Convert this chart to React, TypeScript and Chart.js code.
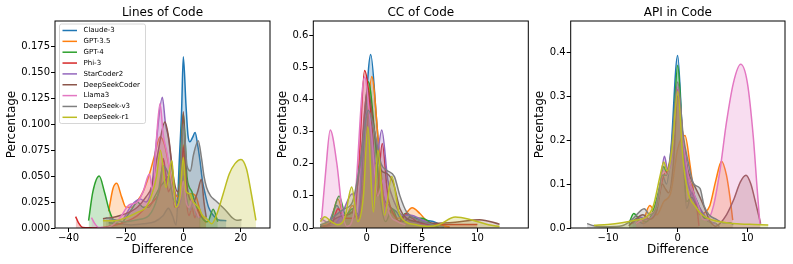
import React, { useEffect, useRef } from "react";
import { Chart, registerables } from "chart.js";
Chart.register(...registerables);

type Pt = [number, number];

const SERIES = ["Claude-3", "GPT-3.5", "GPT-4", "Phi-3", "StarCoder2", "DeepSeekCoder", "Llama3", "DeepSeek-v3", "DeepSeek-r1"];
const COLORS = ["#1f77b4", "#ff7f0e", "#2ca02c", "#d62728", "#9467bd", "#8c564b", "#e377c2", "#7f7f7f", "#bcbd22"];

// ---------- Lines of Code : [difference, percentage] ----------
const LOC_CLAUDE3: Pt[] = [[-26,0.005],[-22,0.004],[-18,0.003],[-14,0.004],[-10,0.006],[-7,0.012],[-5.2,0.019],[-3.8,0.012],[-2.5,0.003],[-1.4,0.065],[-0.6,0.113],[0,0.165],[0.9,0.12],[1.6,0.09],[2.3,0.083],[3.2,0.087],[4.1,0.092],[5,0.08],[5.8,0.065],[6.7,0.045],[7.6,0.033],[8.8,0.02],[10.5,0.012],[12,0.008],[15,0.007]];
const LOC_GPT35: Pt[] = [[-26,0.016],[-24.5,0.038],[-23.2,0.043],[-21.5,0.03],[-20,0.02],[-18,0.02],[-16,0.026],[-14,0.035],[-12,0.05],[-10,0.07],[-8.1,0.088],[-6.5,0.08],[-5,0.06],[-3.5,0.04],[-2,0.03],[-1,0.05],[0,0.08],[0.8,0.05],[1.6,0.033],[3,0.033],[4.5,0.03],[6,0.015],[8,0.005]];
const LOC_GPT4: Pt[] = [[-33,0.007],[-31.5,0.035],[-29.3,0.05],[-27.5,0.035],[-25.8,0.017],[-24,0.006],[-22,0.004],[-20,0.01],[-18,0.018],[-16,0.025],[-14,0.02],[-12,0.02],[-10,0.03],[-8,0.04],[-6.5,0.045],[-5,0.05],[-3.5,0.035],[-2,0.02],[-1.2,0.049],[0,0.11],[1.3,0.049],[2,0.04],[3,0.035],[4,0.025],[5.5,0.015],[7,0.008],[8.5,0.006],[10.4,0.018],[12,0.006]];
const LOC_PHI3: Pt[] = [[-37.5,0.011],[-36.5,0.005],[-35,0.0005],[-30,0.0002],[-25,0.002],[-20,0.006],[-16,0.012],[-13,0.02],[-10,0.027],[-8,0.04],[-7,0.067],[-6,0.05],[-5.2,0.035],[-4,0.04],[-3,0.02],[-1.5,0.02],[0,0.078],[1,0.03],[2,0.012],[3,0.02],[4,0.01],[5,0.018],[6,0.01]];
const LOC_STARCODER2: Pt[] = [[-21,0.008],[-18,0.022],[-15,0.028],[-13,0.025],[-11,0.04],[-9.5,0.08],[-7.3,0.126],[-6.2,0.1],[-5.2,0.087],[-4,0.06],[-3,0.035],[-2,0.02],[-0.7,0.03],[0,0.05],[1,0.03],[2.3,0.017],[3.5,0.025],[4.5,0.012],[6,0.01]];
const LOC_DSCODER: Pt[] = [[-28,0.009],[-25,0.01],[-22,0.012],[-19,0.015],[-16,0.02],[-13,0.03],[-11,0.04],[-9,0.07],[-6.4,0.102],[-5,0.085],[-3.5,0.05],[-2,0.035],[-1,0.05],[0,0.112],[1,0.05],[2,0.03],[3.5,0.025],[5,0.035],[6.3,0.047],[7.2,0.025],[8,0.01]];
const LOC_LLAMA3: Pt[] = [[-32,0.01],[-31,0.005],[-29.5,0.0005],[-26,0.001],[-22,0.01],[-19,0.022],[-16,0.025],[-14,0.035],[-11.8,0.052],[-10.6,0.035],[-9.5,0.08],[-8.1,0.12],[-7,0.09],[-5.5,0.07],[-4,0.04],[-2.5,0.02],[-1,0.03],[0,0.045],[1,0.025],[2,0.02],[3,0.028],[4,0.02],[5.5,0.01]];
const LOC_DSV3: Pt[] = [[-27,0.01],[-24,0.008],[-20,0.006],[-16,0.008],[-12,0.012],[-9,0.03],[-7,0.06],[-5,0.05],[-3,0.025],[-1.5,0.03],[0,0.1],[1.3,0.06],[2.5,0.055],[3.5,0.07],[5.2,0.084],[6.4,0.066],[7.2,0.05],[8.1,0.039],[9.5,0.031],[11,0.027],[13.3,0.021],[15.1,0.016],[17,0.01],[18.6,0.0074],[20.3,0.008]];
const LOC_DSR1: Pt[] = [[-28,0.007],[-24,0.007],[-20,0.01],[-16,0.015],[-13,0.02],[-11,0.032],[-9.3,0.05],[-8,0.075],[-6,0.039],[-4,0.065],[-2.6,0.02],[-1.2,0.03],[0,0.068],[1,0.035],[2.3,0.033],[3.5,0.025],[5.3,0.02],[6.7,0.012],[8.1,0.009],[9.9,0.004],[11.5,0.012],[13.9,0.033],[16,0.052],[18,0.062],[20.1,0.066],[22,0.057],[23.7,0.033],[25.3,0.0074]];

// ---------- CC of Code ----------
const CC_CLAUDE3: Pt[] = [[-4.2,0.01],[-3.5,0.015],[-2.7,0.07],[-2.1,0.03],[-1.4,0.05],[-0.8,0.03],[-0.3,0.25],[0.36,0.54],[0.9,0.33],[1.4,0.12],[2,0.07],[2.7,0.05],[3.3,0.02],[4,0.035],[5,0.025],[6,0.02],[7,0.004]];
const CC_GPT35: Pt[] = [[-4,0.01],[-3.3,0.02],[-2.6,0.09],[-2,0.03],[-1.3,0.07],[-0.7,0.03],[-0.1,0.25],[0.45,0.472],[1.1,0.25],[1.6,0.08],[2.2,0.05],[2.8,0.03],[3.4,0.04],[4.1,0.063],[4.8,0.045],[5.5,0.02],[6.5,0.01],[7.5,0.003]];
const CC_GPT4: Pt[] = [[-4.2,0.005],[-3.4,0.01],[-2.5,0.1],[-1.9,0.04],[-1.3,0.06],[-0.7,0.04],[-0.2,0.35],[0.15,0.455],[0.7,0.3],[1.2,0.1],[1.7,0.02],[2.3,0.06],[2.9,0.02],[3.5,0.045],[4.2,0.03],[5,0.03],[6,0.01],[6.5,0.003]];
const CC_PHI3: Pt[] = [[-4,0.005],[-3.2,0.01],[-2.6,0.06],[-2,0.03],[-1.2,0.03],[-0.7,0.2],[-0.2,0.49],[0.5,0.3],[0.9,0.1],[1.4,0.263],[1.9,0.1],[2.5,0.04],[3,0.02],[3.6,0.045],[4.5,0.02],[5.5,0.012],[7,0.011],[8.5,0.011],[10,0.011]];
const CC_STARCODER2: Pt[] = [[-4.2,0.03],[-3.7,0.02],[-3,0.01],[-2.3,0.04],[-1.3,0.107],[-0.8,0.04],[-0.3,0.3],[0.15,0.367],[0.8,0.2],[1.36,0.305],[1.9,0.15],[2.5,0.08],[3.2,0.04],[4,0.04],[5,0.025],[6,0.01]];
const CC_DSCODER: Pt[] = [[-4.2,0.005],[-3.5,0.01],[-2.8,0.03],[-2,0.04],[-1.3,0.05],[-0.6,0.2],[0.1,0.43],[0.7,0.3],[1.3,0.18],[1.8,0.17],[2.4,0.14],[3,0.06],[3.6,0.03],[4.5,0.02],[6,0.015],[8,0.018],[10.2,0.026],[12,0.012]];
const CC_LLAMA3: Pt[] = [[-4.1,0.02],[-3.7,0.18],[-3.3,0.305],[-2.7,0.2],[-2.2,0.05],[-1.8,0.005],[-1.2,0.04],[-0.2,0.47],[0.4,0.3],[1,0.1],[1.5,0.15],[2,0.05],[2.8,0.02],[3.5,0.01]];
const CC_DSV3: Pt[] = [[-4.2,0.01],[-3.5,0.02],[-2.8,0.04],[-2,0.06],[-1.3,0.08],[-0.6,0.2],[0.15,0.367],[0.7,0.3],[1.3,0.2],[1.8,0.18],[2.5,0.16],[3,0.1],[3.6,0.05],[4.3,0.03],[5,0.02],[6,0.01],[7,0.003]];
const CC_DSR1: Pt[] = [[-4.2,0.02],[-3.8,0.035],[-3.2,0.02],[-2.6,0.01],[-2,0.03],[-1.36,0.128],[-0.8,0.02],[-0.3,0.1],[0.1,0.315],[0.6,0.05],[1.0,0.242],[1.6,0.04],[2.26,0.16],[2.9,0.05],[3.5,0.02],[4.5,0.01],[5.5,0.005],[6.5,0.01],[8,0.034],[9.5,0.025],[11,0.01],[12,0.005]];

// ---------- API in Code ----------
const API_CLAUDE3: Pt[] = [[-7,0.005],[-6,0.02],[-5,0.01],[-4,0.02],[-3,0.04],[-2.2,0.12],[-1.6,0.1],[-1,0.17],[0,0.392],[0.7,0.2],[1.3,0.045],[2,0.08],[2.8,0.06],[3.5,0.03],[4.5,0.015],[5.5,0.01],[6,0.003]];
const API_GPT35: Pt[] = [[-5,0.01],[-4,0.051],[-3,0.03],[-2,0.06],[-1,0.08],[0,0.18],[1.05,0.21],[1.8,0.14],[2.5,0.06],[3.2,0.03],[3.7,0.033],[4.6,0.05],[5.5,0.11],[6.3,0.152],[7,0.12],[7.5,0.07],[7.9,0.018]];
const API_GPT4: Pt[] = [[-7,0.01],[-6.3,0.033],[-5.5,0.02],[-4.5,0.015],[-3.5,0.04],[-2.5,0.1],[-2,0.14],[-1.5,0.12],[-0.7,0.2],[0,0.37],[0.7,0.2],[1.3,0.06],[2,0.07],[3,0.04],[4,0.02],[5,0.01]];
const API_PHI3: Pt[] = [[-6,0.01],[-5,0.02],[-4,0.02],[-3,0.05],[-2,0.12],[-1.5,0.13],[-0.8,0.18],[0,0.315],[0.8,0.2],[1.5,0.12],[2.3,0.08],[2.8,0.04],[3.06,0.005]];
const API_STARCODER2: Pt[] = [[-6.5,0.01],[-5.5,0.025],[-4.5,0.02],[-3.5,0.03],[-2.5,0.1],[-1.9,0.163],[-1.4,0.13],[-0.7,0.17],[0,0.3],[0.8,0.18],[1.5,0.1],[2.3,0.07],[3,0.05],[3.8,0.03],[4.5,0.015],[5.5,0.01]];
const API_DSCODER: Pt[] = [[-7,0.005],[-6,0.02],[-5,0.03],[-4,0.02],[-3,0.04],[-2.2,0.1],[-1.8,0.09],[-1.3,0.08],[-0.6,0.15],[0,0.3],[0.8,0.2],[1.5,0.13],[2.3,0.1],[3.2,0.07],[4,0.04],[4.6,0.017],[5.5,0.004],[6.1,0.011],[7,0.03],[8,0.063],[9,0.105],[9.8,0.12],[10.5,0.1],[11.1,0.063],[11.9,0.01]];
const API_LLAMA3: Pt[] = [[-6,0.01],[-5,0.02],[-4,0.03],[-3,0.05],[-2,0.13],[-1.5,0.12],[-0.8,0.18],[0,0.32],[0.8,0.2],[1.5,0.12],[2.3,0.08],[3,0.05],[3.6,0.02],[4.2,0.018],[5.1,0.048],[6.07,0.131],[7,0.24],[8,0.33],[9.04,0.372],[10,0.33],[10.85,0.207],[11.4,0.09],[11.8,0.01]];
const API_DSV3: Pt[] = [[-13,0.01],[-12,0.005],[-10,0.003],[-8,0.005],[-6.5,0.02],[-4.8,0.044],[-4,0.03],[-3,0.05],[-2.2,0.12],[-1.6,0.12],[-0.8,0.2],[0,0.332],[0.8,0.21],[1.5,0.15],[2.3,0.1],[3.2,0.09],[3.8,0.05],[4.5,0.03],[5.5,0.02],[6.5,0.012],[7.5,0.012],[8,0.008]];
const API_DSR1: Pt[] = [[-12,0.006],[-10,0.008],[-8,0.012],[-6,0.018],[-4.5,0.025],[-3.5,0.05],[-2.5,0.12],[-2,0.15],[-1.5,0.13],[-0.8,0.18],[0,0.31],[0.8,0.15],[1.5,0.08],[2.5,0.05],[3.5,0.03],[5,0.018],[7,0.012],[9,0.009],[11,0.008],[13,0.007]];

const LOC_CURVES = [LOC_CLAUDE3, LOC_GPT35, LOC_GPT4, LOC_PHI3, LOC_STARCODER2, LOC_DSCODER, LOC_LLAMA3, LOC_DSV3, LOC_DSR1];
const CC_CURVES = [CC_CLAUDE3, CC_GPT35, CC_GPT4, CC_PHI3, CC_STARCODER2, CC_DSCODER, CC_LLAMA3, CC_DSV3, CC_DSR1];
const API_CURVES = [API_CLAUDE3, API_GPT35, API_GPT4, API_PHI3, API_STARCODER2, API_DSCODER, API_LLAMA3, API_DSV3, API_DSR1];

const LOC_X_TICKS = [-40, -20, 0, 20];
const LOC_Y_TICKS = [0, 0.025, 0.05, 0.075, 0.1, 0.125, 0.15, 0.175];
const CC_X_TICKS = [0, 5, 10];
const CC_Y_TICKS = [0, 0.1, 0.2, 0.3, 0.4, 0.5, 0.6];
const API_X_TICKS = [-10, 0, 10];
const API_Y_TICKS = [0, 0.1, 0.2, 0.3, 0.4];

const TITLES = ["Lines of Code", "CC of Code", "API in Code"];
const X_LABEL = "Difference";
const Y_LABEL = "Percentage";

const FONT = "'DejaVu Sans', 'Liberation Sans', sans-serif";
Chart.defaults.font.family = FONT;

interface PanelCfg {
  title: string; curves: Pt[][]; xMin: number; xMax: number; yMax: number;
  xTicks: number[]; yTicks: number[]; yDec: number;
  left: number; width: number; axisW: number; padR: number; yTitlePad: number; legend: boolean;
}

const PANELS: PanelCfg[] = [
  { title: TITLES[0], curves: LOC_CURVES, xMin: -44.7, xMax: 30.2, yMax: 0.1994, xTicks: LOC_X_TICKS, yTicks: LOC_Y_TICKS, yDec: 3, left: 0, width: 272, axisW: 55, padR: 2, yTitlePad: 4.8, legend: true },
  { title: TITLES[1], curves: CC_CURVES, xMin: -4.83, xMax: 14.6, yMax: 0.6445, xTicks: CC_X_TICKS, yTicks: CC_Y_TICKS, yDec: 1, left: 272, width: 257, axisW: 41.3, padR: 0.7, yTitlePad: 3.3, legend: false },
  { title: TITLES[2], curves: API_CURVES, xMin: -15.35, xMax: 15.4, yMax: 0.4705, xTicks: API_X_TICKS, yTicks: API_Y_TICKS, yDec: 1, left: 529, width: 264, axisW: 41.7, padR: 8, yTitlePad: 3.6, legend: false },
];

const PLOT_TOP = 21;
const PLOT_BOTTOM = 228;
const H = 264;

function rgba(hex: string, a: number) {
  const n = parseInt(hex.slice(1), 16);
  return `rgba(${(n >> 16) & 255},${(n >> 8) & 255},${n & 255},${a})`;
}

const fmtX = (v: number) => (v < 0 ? "\u2212" + Math.abs(v) : String(v));

const decorPlugin = {
  id: "decor",
  afterDatasetsDraw(chart: any) {
    const { ctx, chartArea } = chart;
    const o = chart.options.plugins.decor;
    ctx.save();
    ctx.strokeStyle = "#000";
    ctx.lineWidth = 1;
    ctx.strokeRect(chartArea.left, chartArea.top, chartArea.right - chartArea.left, chartArea.bottom - chartArea.top);
    ctx.fillStyle = "#000";
    ctx.font = `12px ${FONT}`;
    ctx.textAlign = "center";
    ctx.textBaseline = "middle";
    ctx.fillText(o.title, (chartArea.left + chartArea.right) / 2, 12.5);
    if (o.legend) {
      const bx = chartArea.left + 4.5, by = chartArea.top + 3, bw = 86, bh = 99.5;
      ctx.beginPath();
      const r = 2;
      ctx.moveTo(bx + r, by);
      ctx.arcTo(bx + bw, by, bx + bw, by + bh, r);
      ctx.arcTo(bx + bw, by + bh, bx, by + bh, r);
      ctx.arcTo(bx, by + bh, bx, by, r);
      ctx.arcTo(bx, by, bx + bw, by, r);
      ctx.closePath();
      ctx.fillStyle = "rgba(255,255,255,0.8)";
      ctx.fill();
      ctx.strokeStyle = "#cccccc";
      ctx.lineWidth = 0.8;
      ctx.stroke();
      ctx.font = `7px ${FONT}`;
      ctx.textAlign = "left";
      SERIES.forEach((s, i) => {
        const y = by + 6.5 + i * 10.85;
        ctx.strokeStyle = COLORS[i];
        ctx.lineWidth = 1.5;
        ctx.beginPath();
        ctx.moveTo(bx + 3, y);
        ctx.lineTo(bx + 17.5, y);
        ctx.stroke();
        ctx.fillStyle = "#000";
        ctx.fillText(s, bx + 24, y);
      });
    }
    ctx.restore();
  },
};

function Panel({ p }: { p: PanelCfg }) {
  const ref = useRef<HTMLCanvasElement>(null);
  useEffect(() => {
    if (!ref.current) return;
    const datasets = p.curves.map((c, i) => ({
      label: SERIES[i],
      data: c.map(([x, y]) => ({ x, y })),
      borderColor: COLORS[i],
      backgroundColor: rgba(COLORS[i], 0.25),
      borderWidth: 1.5,
      pointRadius: 0,
      fill: "origin",
      cubicInterpolationMode: "monotone" as const,
      order: SERIES.length - i,
    }));
    const chart = new Chart(ref.current, {
      type: "line",
      data: { datasets },
      plugins: [decorPlugin],
      options: {
        animation: false,
        responsive: false,
        devicePixelRatio: 1,
        layout: { padding: { top: PLOT_TOP, right: p.padR, left: 0, bottom: 0 } },
        plugins: {
          legend: { display: false },
          title: { display: false },
          tooltip: { enabled: false },
          decor: { title: p.title, legend: p.legend },
        } as any,
        scales: {
          x: {
            type: "linear",
            min: p.xMin,
            max: p.xMax,
            afterBuildTicks: (s: any) => { s.ticks = p.xTicks.map((v) => ({ value: v })); },
            afterFit: (s: any) => { s.height = H - PLOT_BOTTOM; },
            ticks: { color: "#000", font: { size: 10, family: FONT }, padding: 0, maxRotation: 0, autoSkip: false, callback: (v: any) => fmtX(Number(v)) },
            grid: { display: true, drawOnChartArea: false, drawTicks: true, tickLength: 4, tickColor: "#000", tickWidth: 1 },
            border: { display: false },
            title: { display: true, text: X_LABEL, color: "#000", font: { size: 12, family: FONT }, padding: { top: 0, bottom: 7.3 } },
          },
          y: {
            type: "linear",
            min: 0,
            max: p.yMax,
            afterBuildTicks: (s: any) => { s.ticks = p.yTicks.map((v) => ({ value: v })); },
            afterFit: (s: any) => { s.width = p.axisW; },
            ticks: { color: "#000", font: { size: 10, family: FONT }, padding: 1, autoSkip: false, callback: (v: any) => Number(v).toFixed(p.yDec) },
            grid: { display: true, drawOnChartArea: false, drawTicks: true, tickLength: 4, tickColor: "#000", tickWidth: 1 },
            border: { display: false },
            title: { display: true, text: Y_LABEL, color: "#000", font: { size: 12, family: FONT }, padding: { top: p.yTitlePad, bottom: 0 } },
          },
        },
      } as any,
    });
    return () => chart.destroy();
  }, [p]);
  return (
    <canvas
      ref={ref}
      width={p.width}
      height={H}
      style={{ position: "absolute", left: p.left, top: 0, width: p.width, height: H }}
    />
  );
}

export default function App() {
  return (
    <div style={{ position: "absolute", left: 0, top: 0, width: 793, height: H, background: "#fff", overflow: "hidden" }}>
      {PANELS.map((p, i) => (
        <Panel key={i} p={p} />
      ))}
    </div>
  );
}
